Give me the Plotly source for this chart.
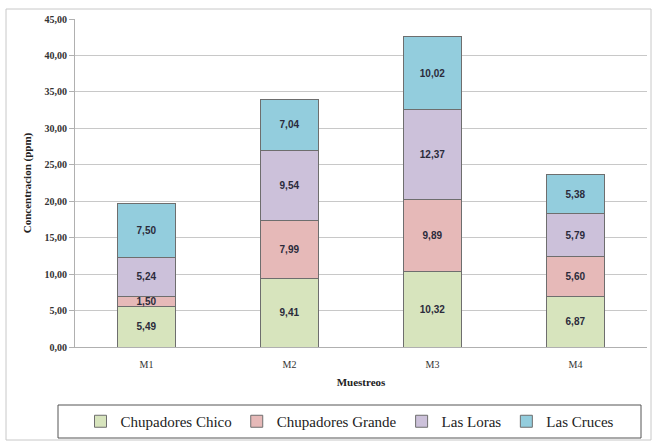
import plotly.graph_objects as go

muestreos = ["M1", "M2", "M3", "M4"]
chupadores_chico = [5.49, 9.41, 10.32, 6.87]
chupadores_grande = [1.50, 7.99, 9.89, 5.60]
las_loras = [5.24, 9.54, 12.37, 5.79]
las_cruces = [7.50, 7.04, 10.02, 5.38]

series = [
    ("Chupadores Chico", chupadores_chico, "#D7E4BD"),
    ("Chupadores Grande", chupadores_grande, "#E6B9B8"),
    ("Las Loras", las_loras, "#CCC1DA"),
    ("Las Cruces", las_cruces, "#93CDDD"),
]

W, H = 652, 441
ML, MR, MT, MB = 75, 5, 19, 94

fig = go.Figure()
for name, vals, color in series:
    fig.add_trace(go.Bar(
        name=name,
        x=muestreos,
        y=vals,
        marker=dict(color=color, line=dict(color="#6e6e6e", width=1)),
        texttemplate="%{y:.2f}",
        textposition="inside",
        insidetextanchor="middle",
        textangle=0,
        textfont=dict(family="Liberation Sans", size=10, color="#2b2b3b", weight="bold"),
    ))

# pixel -> paper coordinate helpers
pw, ph = W - ML - MR, H - MT - MB
def px_x(p):
    return (p - ML) / pw
def px_y(p):
    return (H - MB - p) / ph

# outer chart frame
fig.add_shape(type="rect", xref="paper", yref="paper",
              x0=px_x(6), x1=px_x(651), y0=px_y(440), y1=px_y(9),
              line=dict(color="#c8c8c8", width=1), layer="below")
# legend frame
fig.add_shape(type="rect", xref="paper", yref="paper",
              x0=px_x(58), x1=px_x(641), y0=px_y(438), y1=px_y(405),
              line=dict(color="#555555", width=1), layer="below")

fig.update_layout(
    width=W, height=H,
    margin=dict(l=ML, r=MR, t=MT, b=MB, autoexpand=False),
    barmode="stack",
    bargap=0.59,
    separators=",.",
    plot_bgcolor="white",
    paper_bgcolor="white",
    uniformtext=dict(minsize=10, mode="show"),
    font=dict(family="Liberation Serif", color="#222"),
    showlegend=True,
    legend=dict(
        orientation="h",
        x=px_x(350), xanchor="center",
        y=px_y(421.5), yanchor="middle",
        borderwidth=0,
        bgcolor="rgba(0,0,0,0)",
        font=dict(family="Liberation Serif, serif", size=15, color="#222"),
        itemwidth=30,
        traceorder="normal",
    ),
    xaxis=dict(
        title=dict(text="<b>Muestreos</b>", font=dict(size=11), standoff=9),
        tickfont=dict(size=10, color="#333"),
        ticklabelstandoff=8,
        showline=True, linecolor="#b0b0b0",
        ticks="", showgrid=False,
    ),
    yaxis=dict(
        range=[0, 45], dtick=5, tickformat=".2f",
        title=dict(text="<b>Concentracion (ppm)</b>", font=dict(size=11), standoff=10),
        tickfont=dict(size=10, color="#333", weight="bold"),
        showgrid=True, gridcolor="#c8c8c8", gridwidth=1,
        showline=True, linecolor="#b0b0b0",
        ticks="outside", ticklen=5, tickcolor="#b0b0b0",
        zeroline=False,
    ),
)

fig.write_html("out.html")
